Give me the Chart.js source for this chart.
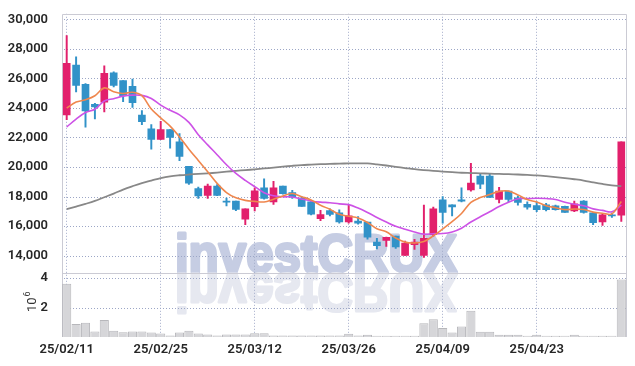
<!DOCTYPE html>
<html>
<head>
<meta charset="utf-8">
<script src="https://cdn.jsdelivr.net/npm/chart.js@4.4.0/dist/chart.umd.min.js"></script>
<style>
    html, body { margin: 0; padding: 0; background: #fff; }
    #wrap { width: 635px; height: 366px; }
</style>
</head>
<body>
<div id="wrap"><canvas id="chart" width="635" height="366"></canvas></div>
<script>
// Trading days
const dates = [
    '25/02/11', '25/02/12', '25/02/13', '25/02/14', '25/02/17', '25/02/18', '25/02/19', '25/02/20', '25/02/21', '25/02/24',
    '25/02/25', '25/02/26', '25/02/27', '25/02/28', '25/03/04', '25/03/05', '25/03/06', '25/03/07', '25/03/10', '25/03/11',
    '25/03/12', '25/03/13', '25/03/14', '25/03/17', '25/03/18', '25/03/19', '25/03/20', '25/03/21', '25/03/24', '25/03/25',
    '25/03/26', '25/03/27', '25/03/28', '25/03/31', '25/04/01', '25/04/02', '25/04/03', '25/04/04', '25/04/07', '25/04/08',
    '25/04/09', '25/04/10', '25/04/11', '25/04/14', '25/04/15', '25/04/16', '25/04/17', '25/04/18', '25/04/21', '25/04/22',
    '25/04/23', '25/04/24', '25/04/25', '25/04/28', '25/04/29', '25/04/30', '25/05/02', '25/05/07', '25/05/08', '25/05/09'
];

// OHLC
const opens = [
    23530, 26910, 25600, 24250, 24400, 26380, 25850, 25470, 23510, 22580,
    21870, 22530, 21710, 20040, 18530, 18070, 18710, 17690, 17690, 16470,
    17310, 18580, 17640, 18710, 18270, 17890, 17640, 16490, 17040, 16890,
    16270, 16330, 16270, 14910, 15020, 15310, 14000, 14730, 14000, 15420,
    17780, 17440, 17780, 18440, 19380, 19380, 17800, 18360, 17910, 17470,
    17380, 17440, 17360, 17330, 17020, 17690, 16890, 16270, 16760, 16730
];
const highs = [
    28910, 27470, 25650, 24310, 26850, 26450, 25850, 25960, 23830, 22870,
    23090, 22530, 22270, 20040, 18640, 18840, 18800, 17890, 17690, 17160,
    18580, 19200, 19020, 18710, 18420, 17980, 17650, 17070, 17160, 17090,
    17420, 16640, 16270, 15160, 15250, 15310, 14980, 15090, 17420, 17290,
    18000, 17440, 18580, 20240, 19530, 19530, 18620, 18360, 18040, 17640,
    17640, 17530, 17420, 17350, 17690, 17730, 16890, 16840, 16870, 21710
];
const lows = [
    23200, 25090, 22690, 23250, 23730, 25430, 24430, 24030, 22870, 21200,
    21850, 21270, 20430, 18820, 17870, 17870, 18050, 17360, 17040, 16090,
    17020, 17820, 17470, 18150, 17870, 17330, 16760, 16360, 16690, 16200,
    16200, 16130, 15110, 14440, 14620, 14490, 14000, 14420, 13870, 15310,
    16200, 16690, 17640, 18360, 18530, 17930, 17560, 17640, 17420, 17150,
    16980, 17020, 17070, 16930, 16980, 16870, 16090, 16040, 16580, 16310
];
const closes = [
    27030, 25530, 23800, 24070, 26350, 25530, 24830, 24360, 23070, 21870,
    22530, 22010, 20710, 18910, 18040, 18710, 18070, 17620, 17130, 17160,
    18380, 17870, 18580, 18200, 17960, 17330, 16800, 16780, 16780, 16270,
    16690, 16200, 15240, 14670, 15240, 14580, 14840, 14910, 15160, 17160,
    16930, 17290, 17690, 18910, 18840, 17930, 18360, 17800, 17600, 17270,
    17110, 17110, 17110, 16930, 17510, 16930, 16220, 16760, 16690, 21710
];

// Volume, millions of shares
const volumes = [
    3.62, 0.89, 0.96, 0.37, 1.15, 0.43, 0.33, 0.37, 0.37, 0.30,
    0.24, 0.11, 0.30, 0.43, 0.24, 0.17, 0.11, 0.17, 0.17, 0.17,
    0.26, 0.26, 0.11, 0.11, 0.11, 0.10, 0.10, 0.10, 0.10, 0.10,
    0.22, 0.11, 0.15, 0.09, 0.09, 0.09, 0.09, 0.09, 0.93, 1.20,
    0.61, 0.30, 0.72, 1.78, 0.35, 0.35, 0.15, 0.15, 0.15, 0.09,
    0.15, 0.09, 0.09, 0.09, 0.15, 0.09, 0.09, 0.09, 0.09, 3.90
];

// Moving averages as drawn
const ma5 = [
    24000, 24400, 24560, 24830, 25360, 25100, 24980, 25060, 24830, 23930,
    23330, 22770, 22040, 21210, 20440, 19680, 18890, 18270, 17910, 17740,
    17670, 17630, 17820, 18040, 18200, 17990, 17770, 17410, 17130, 16790,
    16660, 16540, 16240, 15810, 15610, 15190, 14910, 14850, 14950, 15330,
    15800, 16290, 16850, 17600, 17930, 18130, 18350, 18370, 18110, 17790,
    17630, 17380, 17240, 17110, 17150, 17120, 16940, 16870, 16820, 17660
];
const ma10 = [
    22710, 23250, 23690, 23910, 24470, 24630, 24800, 24870, 24850, 24640,
    24190, 23840, 23530, 23020, 22190, 21500, 20830, 20150, 19560, 19090,
    18670, 18260, 18050, 17980, 17970, 17830, 17700, 17620, 17580, 17500,
    17450, 17220, 16920, 16580, 16270, 15980, 15780, 15600, 15450, 15480,
    15490, 15600, 15850, 16270, 16630, 16970, 17320, 17610, 17850, 17860,
    17880, 17860, 17800, 17610, 17470, 17370, 17160, 17060, 16960, 17410
];
const ma60 = [
    17140, 17320, 17500, 17700, 17950, 18200, 18470, 18700, 18910, 19080,
    19250, 19370, 19440, 19490, 19530, 19570, 19620, 19680, 19740, 19790,
    19840, 19900, 19960, 20020, 20080, 20130, 20160, 20190, 20210, 20230,
    20240, 20245, 20245, 20180, 20100, 20010, 19930, 19850, 19790, 19740,
    19690, 19650, 19610, 19590, 19570, 19550, 19530, 19510, 19490, 19460,
    19430, 19380, 19320, 19250, 19170, 19080, 18960, 18850, 18760, 18710
];

const priceTicks = [14000, 16000, 18000, 20000, 22000, 24000, 26000, 28000, 30000];
const volumeTicks = [2, 4];
const tickEvery = 10;

const UP = '#e2206c';
const DOWN = '#3192c8';
const GRID = '#a4acca';
const DOT = '#9ca6c6';
const FRAME = '#cbcbd4';
const tickFont = { family: 'Roboto', size: 13, weight: '600' };

const candleColors = closes.map((c, i) => c >= opens[i] ? UP : DOWN);

// watermark behind everything, with its mirror image under the baseline
const watermark = {
    id: 'watermark',
    beforeDraw(chart) {
        const ctx = chart.ctx;
        const base = chart.scales.y.bottom;
        ctx.save();
        ctx.font = 'bold 53px "Liberation Sans"';
        ctx.textAlign = 'center';
        ctx.textBaseline = 'alphabetic';
        ctx.lineJoin = 'round';
        const w = ctx.measureText('investCRUX').width + 3;
        ctx.translate(316, base - 1);
        ctx.scale(285 / w, 1);
        ctx.fillStyle = ctx.strokeStyle = '#c6cde3';
        ctx.lineWidth = 3;
        ctx.strokeText('investCRUX', 0, 0);
        ctx.fillText('investCRUX', 0, 0);
        ctx.translate(0, 2);
        ctx.scale(1, -1);
        ctx.fillStyle = ctx.strokeStyle = '#e6e8f0';
        ctx.strokeText('investCRUX', 0, 0);
        ctx.fillText('investCRUX', 0, 0);
        ctx.restore();
    }
};

// dotted horizontal grid, plot frame, pane separator and the volume unit label
const frame = {
    id: 'frame',
    beforeDatasetsDraw(chart) {
        const ctx = chart.ctx;
        const a = chart.chartArea;
        const left = Math.round(a.left);
        const right = Math.round(a.right);

        // grid rows as single-pixel dots, 3px apart
        const rows = [
            ...priceTicks.map(v => chart.scales.y.getPixelForValue(v)),
            ...volumeTicks.map(v => chart.scales.yVol.getPixelForValue(v))
        ];
        ctx.save();
        ctx.fillStyle = DOT;
        rows.forEach(py => {
            const yy = Math.round(py);
            for (let x = left + 2; x < right; x += 3) {
                ctx.fillRect(x, yy, 1, 1);
            }
        });
        ctx.restore();

        const sep = Math.round(chart.scales.y.bottom) + 0.5;
        ctx.save();
        ctx.strokeStyle = FRAME;
        ctx.lineWidth = 1;
        ctx.beginPath();
        ctx.moveTo(left + 0.5, Math.round(a.bottom));
        ctx.lineTo(left + 0.5, Math.round(a.top) + 0.5);
        ctx.lineTo(right + 0.5, Math.round(a.top) + 0.5);
        ctx.lineTo(right + 0.5, Math.round(a.bottom));
        ctx.moveTo(a.left, sep);
        ctx.lineTo(a.right, sep);
        ctx.stroke();
        ctx.restore();
    },
    afterDraw(chart) {
        const ctx = chart.ctx;
        ctx.save();
        ctx.translate(36, 312);
        ctx.rotate(-Math.PI / 2);
        ctx.fillStyle = '#333';
        ctx.textBaseline = 'alphabetic';
        ctx.font = '13px Roboto';
        ctx.fillText('10', 0, 0);
        const w = ctx.measureText('10').width;
        ctx.font = '9px Roboto';
        ctx.fillText('6', w + 1, -6);
        ctx.restore();
    }
};

new Chart(document.getElementById('chart'), {
    type: 'bar',
    data: {
        labels: dates,
        datasets: [
            {
                type: 'line', label: 'MA5', data: ma5, yAxisID: 'y', order: 0,
                borderColor: '#ef874e', borderWidth: 1.6, pointRadius: 0, tension: 0.35
            },
            {
                type: 'line', label: 'MA10', data: ma10, yAxisID: 'y', order: 0,
                borderColor: '#cd52e6', borderWidth: 1.6, pointRadius: 0, tension: 0.35
            },
            {
                type: 'line', label: 'MA60', data: ma60, yAxisID: 'y', order: 0,
                borderColor: '#888888', borderWidth: 1.8, pointRadius: 0, tension: 0.35
            },
            {
                label: 'Body', data: opens.map((o, i) => [o, closes[i]]), yAxisID: 'y', order: 1,
                backgroundColor: candleColors, borderWidth: 0, barThickness: 7, minBarLength: 1, grouped: false
            },
            {
                label: 'Wick', data: lows.map((l, i) => [l, highs[i]]), yAxisID: 'y', order: 2,
                backgroundColor: candleColors, borderWidth: 0, barThickness: 1.3, grouped: false
            },
            {
                label: 'Volume', data: volumes, yAxisID: 'yVol', order: 3,
                backgroundColor: '#d6d6d9', borderColor: '#b7b7bb', borderWidth: 1,
                barPercentage: 1, categoryPercentage: 0.97, grouped: false
            }
        ]
    },
    options: {
        responsive: false,
        animation: false,
        devicePixelRatio: 1,
        layout: { padding: { top: 9, right: 9, left: 0, bottom: 0 } },
        plugins: { legend: { display: false }, tooltip: { enabled: false } },
        scales: {
            x: {
                offset: true,
                grid: {
                    offset: false,
                    drawTicks: false,
                    lineWidth: 1,
                    color: c => c.index % tickEvery === 0 ? GRID : 'rgba(0,0,0,0)'
                },
                border: { display: false, dash: [1, 2] },
                ticks: {
                    autoSkip: false, maxRotation: 0, padding: 5, color: '#262626', font: tickFont,
                    callback: (v, i) => i % tickEvery === 0 ? dates[i] : ''
                },
                afterFit: s => { s.height = 29; }
            },
            yVol: {
                position: 'left', stack: 'panes', stackWeight: 65, weight: 0,
                min: 0, max: 4.35,
                afterBuildTicks: s => { s.ticks = volumeTicks.map(v => ({ value: v })); },
                grid: { display: false },
                border: { display: false },
                ticks: { autoSkip: false, padding: 6, color: '#262626', font: tickFont },
                afterFit: s => { s.width = 62; }
            },
            y: {
                position: 'left', stack: 'panes', stackWeight: 263, weight: 1,
                min: 12820, max: 30380,
                afterBuildTicks: s => { s.ticks = priceTicks.map(v => ({ value: v })); },
                grid: { display: false },
                border: { display: false },
                ticks: {
                    autoSkip: false, padding: 6, color: '#262626', font: tickFont,
                    callback: v => v.toLocaleString('en-US')
                },
                afterFit: s => { s.width = 62; }
            }
        }
    },
    plugins: [watermark, frame]
});
</script>
</body>
</html>
